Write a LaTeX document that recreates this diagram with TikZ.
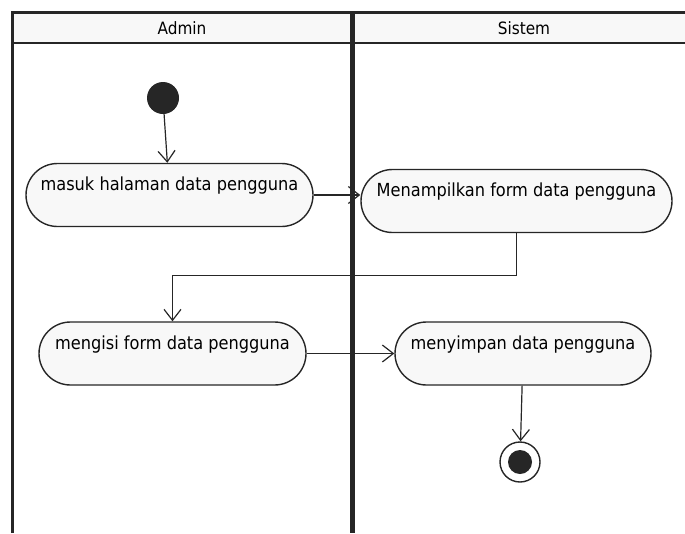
\documentclass[tikz,border=0pt]{standalone}
\usepackage{fontspec}
\setmainfont{DejaVu Sans Condensed}
\usepackage{xcolor}
\usetikzlibrary{arrows.meta}
\definecolor{garis}{HTML}{262626}
\definecolor{isian}{HTML}{F8F8F8}
\tikzset{
  aktivitas/.style={draw=garis, line width=1.4pt, fill=isian, rounded corners=31.5pt,
    minimum height=63pt, inner sep=0pt, align=center, font=\fontsize{18}{22}\selectfont},
  alur/.style={garis, line width=1.2pt, -{Straight Barb[length=11pt,width=17pt]}},
  judul/.style={font=\fontsize{17}{20}\selectfont},
  lajur/.style={garis, line width=3pt},
}

\begin{document}
\begin{tikzpicture}[x=1pt,y=-1pt]
  \useasboundingbox (0,0) rectangle (685,533);
  \clip (0,0) rectangle (685,533);
  % swimlanes
  \fill[isian] (12,12) rectangle (700,43);
  \draw[lajur] (12,533) -- (12,12) -- (700,12);
  \draw[garis, line width=2.5pt] (12,43) -- (700,43);
  \draw[garis, line width=5pt] (352,12) -- (352,533);
  \node[judul] (admin) at (182,28) {Admin};
  \node[judul] (sistem) at (524,28) {Sistem};

  % activities
  \node[circle, fill=garis, minimum size=32pt, inner sep=0pt] (mulai) at (163,98) {};
  \node[aktivitas, minimum width=287pt] (masuk) at (169.5,195) {masuk halaman data pengguna\\ ~};
  \node[aktivitas, minimum width=311pt] (tampil) at (516.5,201) {Menampilkan form data pengguna\\ ~};
  \node[aktivitas, minimum width=267pt] (isi) at (172.5,353.5) {mengisi form data pengguna\\ ~};
  \node[aktivitas, minimum width=256pt] (simpan) at (523,353.5) {menyimpan data pengguna\\ ~};
  \node[circle, draw=garis, line width=1.4pt, fill=white, minimum size=40pt, inner sep=0pt] (akhir) at (520,462) {};
  \fill[garis] (akhir.center) circle (12pt);

  % flows
  \draw[alur] (mulai) -- (masuk);
  \draw[alur] (masuk.east) -- (masuk.east -| tampil.west);
  \draw[alur] (tampil.south) -- ++(0,42) -| (isi.north);
  \draw[alur] (isi) -- (simpan);
  \draw[alur] (simpan) -- (akhir);
\end{tikzpicture}
\end{document}
